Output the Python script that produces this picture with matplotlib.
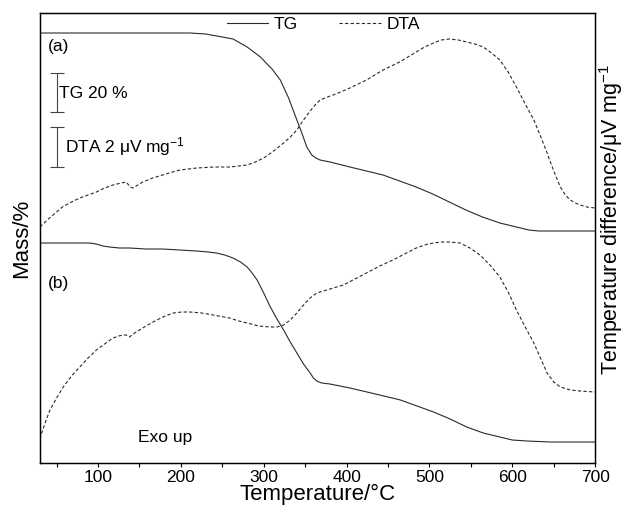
import matplotlib.pyplot as plt
import numpy as np

plt.rcParams['font.family'] = ['Liberation Sans', 'DejaVu Sans']
plt.rcParams['mathtext.fontset'] = 'custom'
plt.rcParams['mathtext.rm'] = 'Liberation Sans'

# TG / DTA traces, signal in arbitrary offset units (0 = bottom of frame)
tg_a_T = [30, 100, 211, 230, 250, 263, 280, 296, 310, 320, 330, 340, 346, 352, 358, 363, 368, 380,
          404, 444, 484, 504, 524, 544, 564, 585, 605, 620, 632, 700]
tg_a_y = [430, 430, 430, 429, 426, 424, 416, 406, 394, 383, 365, 343, 330, 316, 308, 305, 303, 301,
          296, 288, 276, 269, 261, 253, 246, 240, 236, 233, 232, 232]

dta_a_T = [30, 40, 50, 57, 68, 78, 88, 98, 108, 118, 128, 134, 137, 139, 142, 148, 154, 166, 178, 190,
           199, 219, 240, 259, 270, 280, 290, 300, 312, 324, 332, 340, 348, 356, 362, 368, 377, 390,
           404, 414, 424, 434, 444, 454, 464, 474, 484, 494, 505, 514, 524, 535, 545, 555, 565, 575,
           585, 595, 605, 615, 626, 634, 642, 650, 658, 664, 670, 676, 682, 690, 700]
dta_a_y = [236, 244, 251, 256, 261, 265, 268, 271, 275, 278, 280, 281, 278, 276, 275, 278, 281, 285, 288, 291,
           293, 295, 296, 296, 297, 298, 301, 305, 312, 320, 326, 333, 343, 352, 358, 363, 366, 370,
           375, 379, 383, 388, 393, 397, 401, 406, 411, 416, 420, 423, 424, 423, 421, 419, 416, 410,
           403, 391, 376, 360, 343, 327, 310, 292, 276, 268, 263, 260, 258, 256, 255]

tg_b_T = [30, 90, 98, 106, 114, 126, 138, 158, 178, 199, 219, 233, 243, 253, 263, 272, 280, 286, 292,
          300, 308, 316, 324, 332, 340, 348, 356, 360, 364, 370, 380, 404, 435, 465, 485, 505, 525,
          545, 565, 585, 600, 618, 646, 700]
tg_b_y = [220, 220, 219, 217, 216, 215, 215, 214, 214, 213, 212, 211, 210, 208, 205, 201, 196, 190, 183,
          170, 156, 144, 133, 121, 110, 99, 90, 85, 82, 80, 79, 75, 69, 63, 57, 51, 44,
          36, 30, 26, 23, 22, 21, 21]

dta_b_T = [30, 32, 37, 42, 50, 58, 68, 78, 88, 98, 108, 118, 125, 130, 134, 138, 144, 150, 160, 171,
           181, 191, 201, 211, 225, 239, 259, 270, 280, 294, 308, 316, 324, 332, 340, 348, 356, 364,
           372, 384, 396, 410, 424, 440, 456, 470, 484, 498, 513, 525, 537, 549, 561, 573, 585, 595,
           605, 615, 626, 634, 642, 650, 658, 670, 682, 700]
dta_b_y = [24, 30, 42, 53, 65, 76, 87, 96, 105, 113, 119, 125, 127, 128, 128, 126, 130, 133, 138, 143,
           147, 150, 151, 151, 150, 148, 145, 142, 140, 137, 136, 136, 138, 143, 150, 158, 165, 170,
           172, 175, 178, 184, 190, 197, 203, 209, 215, 219, 221, 221, 220, 215, 208, 198, 186, 171,
           153, 137, 120, 105, 90, 81, 76, 73, 72, 71]

fig = plt.figure(figsize=(6.28, 5.14), dpi=100)
ax = fig.add_axes([0.0637, 0.0992, 0.884, 0.8755])

lc = '#2a2a2a'
ax.plot(tg_a_T, tg_a_y, color=lc, lw=0.8, label='TG')
ax.plot(dta_a_T, dta_a_y, color=lc, lw=0.8, dashes=(3, 2), label='DTA')
ax.plot(tg_b_T, tg_b_y, color=lc, lw=0.8)
ax.plot(dta_b_T, dta_b_y, color=lc, lw=0.8, dashes=(3, 2))

ax.set_xlim(30, 700)
ax.set_ylim(0, 450)
ax.set_xticks(np.arange(100, 701, 100))
ax.set_xticks(np.arange(50, 701, 100), minor=True)
ax.tick_params(axis='x', which='both', direction='out', length=3, labelsize=12.5, width=0.8, pad=2)
ax.set_yticks([])
for s in ax.spines.values():
    s.set_linewidth(1.0)

ax.set_xlabel('Temperature/°C', fontsize=16, labelpad=-1)
ax.set_ylabel('Mass/%', fontsize=16, labelpad=6)
ax2 = ax.twinx()
ax2.set_yticks([])
ax2.set_ylabel('Temperature difference/μV $\\mathregular{mg^{-1}}$', fontsize=15.5)
ax2.yaxis.set_label_coords(1.003, 0.54)

# scale bars
bx = 50
ax.errorbar([bx], [370.5], yerr=[[19.5], [19.5]], color='#444444', lw=0.8, capsize=5, capthick=0.8)
ax.errorbar([bx], [316], yerr=[[20], [20]], color='#444444', lw=0.8, capsize=5, capthick=0.8)
ax.text(53, 370, 'TG 20 %', fontsize=12.5, va='center')
ax.text(60, 316, 'DTA 2 μV $\\mathregular{mg^{-1}}$', fontsize=12.5, va='center')

ax.text(39, 417, '(a)', fontsize=12.5, va='center')
ax.text(39, 180, '(b)', fontsize=12.5, va='center')
ax.text(148, 26, 'Exo up', fontsize=12.5, va='center')

ax.legend(loc='upper center', ncol=2, frameon=False, fontsize=12.5, handlelength=2.4,
          columnspacing=2.4, borderaxespad=-0.2, handletextpad=0.3, bbox_to_anchor=(0.51, 1))

fig.savefig('out.png', dpi=100)
